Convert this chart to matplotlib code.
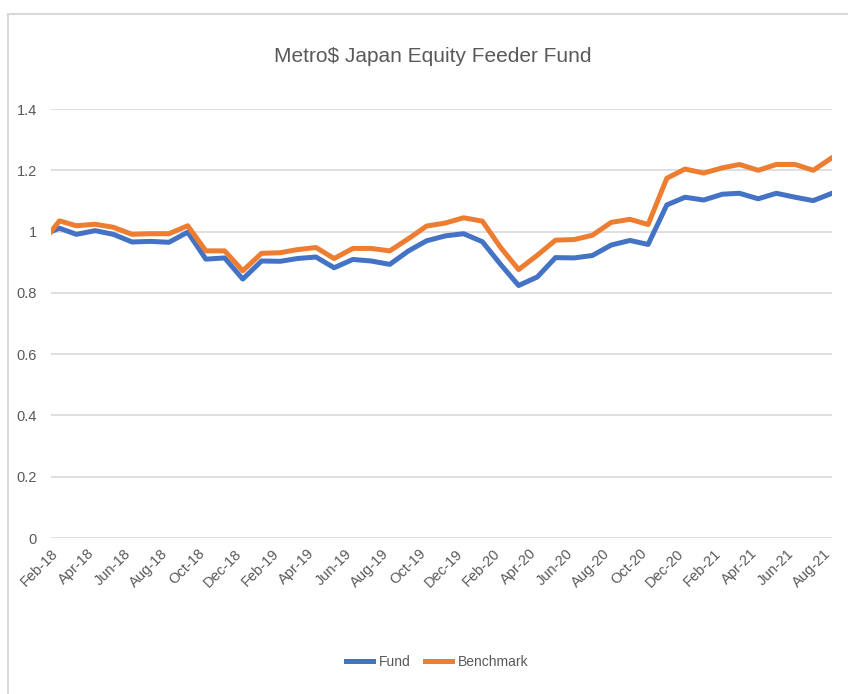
import matplotlib
matplotlib.use("Agg")
import matplotlib.pyplot as plt
import matplotlib.dates as mdates
from matplotlib.ticker import FuncFormatter
import pandas as pd

plt.rcParams['font.family'] = ['Liberation Sans', 'DejaVu Sans']

# inception point, then mid-month values Feb-18 .. Aug-21
dates = [pd.Timestamp("2018-02-01")] + list(pd.date_range("2018-02-01", "2021-08-01", freq="MS") + pd.Timedelta(days=14))

fund = [1.0,
        1.011, 0.991, 1.003, 0.991, 0.966, 0.968, 0.965, 0.998, 0.910, 0.914,
        0.845, 0.904, 0.903, 0.912, 0.917, 0.882, 0.909, 0.904, 0.893, 0.937,
        0.970, 0.986, 0.993, 0.967, 0.891, 0.824, 0.852, 0.915, 0.914, 0.922,
        0.956, 0.971, 0.958, 1.087, 1.112, 1.103, 1.122, 1.125, 1.107, 1.125,
        1.112, 1.101, 1.125]
benchmark = [1.0,
             1.035, 1.019, 1.024, 1.014, 0.991, 0.993, 0.993, 1.019, 0.937, 0.937,
             0.872, 0.929, 0.931, 0.941, 0.948, 0.912, 0.945, 0.945, 0.937, 0.977,
             1.018, 1.028, 1.045, 1.034, 0.946, 0.876, 0.923, 0.972, 0.974, 0.988,
             1.030, 1.040, 1.023, 1.174, 1.204, 1.191, 1.208, 1.219, 1.200, 1.219,
             1.219, 1.200, 1.241]

tick_dates = pd.date_range("2018-02-01", "2021-08-01", freq="2MS")

grey = "#595959"
fig = plt.figure(figsize=(8.48, 6.94), dpi=100)
ax = fig.add_axes([51 / 848, 1 - 538 / 694, 781 / 848, 429 / 694])

ax.plot(dates, fund, color="#4472C4", lw=3.6, label="Fund", solid_joinstyle="round")
ax.plot(dates, benchmark, color="#ED7D31", lw=3.6, label="Benchmark", solid_joinstyle="round")

ax.set_ylim(0, 1.4)
ax.set_xlim(dates[0], dates[-1])
ax.set_yticks([0, 0.2, 0.4, 0.6, 0.8, 1.0, 1.2, 1.4])
ax.yaxis.set_major_formatter(FuncFormatter(lambda v, p: f"{v:g}"))
ax.set_xticks(tick_dates)
ax.xaxis.set_major_formatter(mdates.DateFormatter("%b-%y"))
ax.grid(axis="y", color="#d9d9d9", lw=1.2)
ax.set_axisbelow(True)
for s in ax.spines.values():
    s.set_visible(False)
ax.tick_params(length=0, colors=grey, labelsize=10.5)
ax.tick_params(axis="y", pad=10)
ax.tick_params(axis="x", pad=6)
for lab in ax.get_xticklabels():
    lab.set_rotation(45)
    lab.set_ha("right")
    lab.set_rotation_mode("anchor")

fig.text(433 / 848, 1 - 57 / 694, "Metro$ Japan Equity Feeder Fund", ha="center", va="center",
         fontsize=15, color=grey)

fig.legend(loc="center", bbox_to_anchor=(437 / 848, 1 - 662 / 694), ncol=2, frameon=False,
           fontsize=10, labelcolor=grey, handlelength=2.0, handletextpad=0.4, columnspacing=1.0)

# chart area border
fig.add_artist(plt.Line2D([8 / 848, 8 / 848], [0, 1 - 14 / 694], transform=fig.transFigure, color="#d9d9d9", lw=1.5))
fig.add_artist(plt.Line2D([8 / 848, 1], [1 - 14 / 694, 1 - 14 / 694], transform=fig.transFigure, color="#d9d9d9", lw=1.5))

fig.savefig("out.png", dpi=100)
